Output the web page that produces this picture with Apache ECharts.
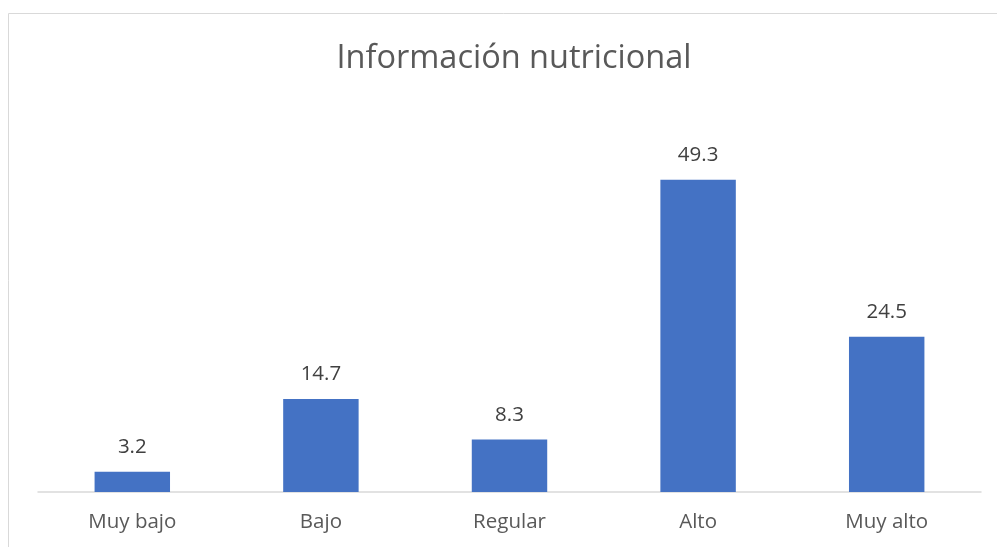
<!DOCTYPE html>
<html>
<head>
<meta charset="utf-8">
<script src="https://cdn.jsdelivr.net/npm/echarts@6/dist/echarts.min.js"></script>
<style>
  html, body { margin: 0; padding: 0; background: #fff; }
  #chart { width: 997px; height: 547px; }
</style>
</head>
<body>
<div id="chart"></div>
<script>
// datos del gráfico
const categories = ["Muy bajo", "Bajo", "Regular", "Alto", "Muy alto"];
const values = [3.2, 14.7, 8.3, 49.3, 24.5];

const chart = echarts.init(document.getElementById("chart"), null, { renderer: "canvas" });

chart.setOption({
  animation: false,
  textStyle: { fontFamily: "Open Sans, sans-serif" },
  title: {
    text: "Información nutricional",
    left: 509,
    textAlign: "center",
    top: 37,
    textStyle: { fontSize: 32.5, fontWeight: "normal", color: "#595959", fontFamily: "Open Sans" }
  },
  graphic: [{
    type: "rect",
    shape: { x: 8.5, y: 13.5, width: 1000, height: 600 },
    style: { fill: "none", stroke: "#d9d9d9", lineWidth: 1 },
    silent: true
  }],
  grid: { left: 38, right: 16, top: 112, bottom: 55 },
  xAxis: {
    type: "category",
    data: categories,
    axisLine: { lineStyle: { color: "#d9d9d9", width: 1.5 } },
    axisTick: { show: false },
    axisLabel: { color: "#595959", fontSize: 20.5, margin: 20 }
  },
  yAxis: {
    type: "value",
    min: 0,
    max: 60,
    show: false,
    splitLine: { show: false }
  },
  series: [{
    type: "bar",
    data: values,
    barWidth: "40%",
    itemStyle: { color: "#4472c4" },
    label: {
      show: true,
      position: "top",
      distance: 14,
      color: "#404040",
      fontSize: 20.5
    }
  }]
});
</script>
</body>
</html>
